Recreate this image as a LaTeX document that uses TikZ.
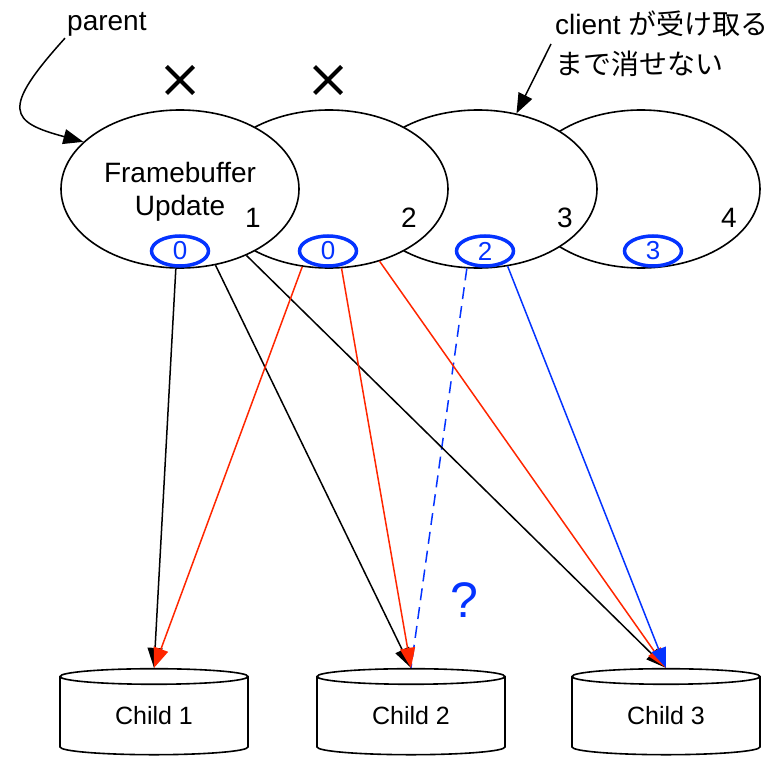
\documentclass[tikz,border=0pt]{standalone}
\usepackage{fontspec}
\setmainfont{Liberation Sans}
\newfontfamily\jpfont{Noto Sans CJK JP}
\usepackage{tikz}
\usetikzlibrary{shapes.geometric, shapes.misc, arrows.meta, positioning}

\definecolor{fbblue}{HTML}{0433FF}
\definecolor{fbred}{HTML}{FF2600}

\tikzset{
	buf/.style = {ellipse, draw, fill = white, line width = 1.6pt, minimum width = 238pt, minimum height = 158pt, inner sep = 0pt},
	seqno/.style = {ellipse, draw = fbblue, fill = white, text = fbblue, line width = 3.5pt, minimum width = 57pt, minimum height = 30pt, inner sep = 0pt, font = \fontsize{26}{26}\selectfont},
	child/.style = {cylinder, shape border rotate = 90, draw, line width = 1.6pt, minimum width = 188pt, minimum height = 86pt, aspect = 0.2, inner sep = 0pt, font = \fontsize{25}{25}\selectfont},
	big/.style = {font = \fontsize{28}{33}\selectfont},
	send/.style = {-{Triangle[length = 20pt, width = 15pt]}, line width = 1.5pt},
	nope/.style = {cross out, draw, line width = 4pt, minimum size = 23pt, inner sep = 0pt}
}

\begin{document}
\begin{tikzpicture}[x = 1pt, y = -1pt]
		\useasboundingbox (0, 0) rectangle (772, 757);
		% buffers, back to front
		\node[buf] (fb4) at (641, 189) {};
		\node[buf] (fb3) at (478, 189) {};
		\node[buf] (fb2) at (329, 189) {};
		\node[buf] (fb1) at (180, 189) {};
		\node[big, align = center] (fbtext) at (180, 192) {Framebuffer\\Update};
		\node[big] (n1) at (253, 218) {1};
		\node[big] (n2) at (409, 218) {2};
		\node[big] (n3) at (565, 218) {3};
		\node[big] (n4) at (729, 218) {4};
		\node[seqno] (s1) at (180, 251) {0};
		\node[seqno] (s2) at (328, 251) {0};
		\node[seqno] (s3) at (485, 251) {2};
		\node[seqno] (s4) at (653, 251) {3};
		\node[nope] (x1) at (180, 80) {};
		\node[nope] (x2) at (328, 80) {};
		% children
		\node[child] (child1) at (154, 716) {Child 1};
		\node[child] (child2) at (411, 716) {Child 2};
		\node[child] (child3) at (666, 716) {Child 3};
		% labels
		\node[big, anchor = west, inner sep = 2pt] (parent) at (65, 24) {parent};
		\node[anchor = west, inner sep = 4pt, align = left, font = \fontsize{28}{40}\selectfont] (client) at (551, 44) {client {\jpfont が受け取る}\\{\jpfont まで消せない}};
		\node[text = fbblue, font = \fontsize{50}{50}\selectfont] (huh) at (464, 600) {?};
		\draw[send] (parent.south west) .. controls (0, 110) and (10, 122) .. (fb1.154);
		\draw[send] (client.west) -- (fb3.63);
		% updates sent to children
		\draw[fbblue, line width = 1.5pt, dash pattern = on 12pt off 7pt] (fb3.-98) -- (child2.north);
		\draw[send] (fb1.-93) -- (child1.north);
		\draw[send] (fb1.-65) -- (child2.north);
		\draw[send] (fb1.-45) -- (child3.north);
		\draw[send, fbred] (fb2.-109) -- (child1.north);
		\draw[send, fbred] (fb2.-81) -- (child2.north);
		\draw[send, fbred] (fb2.-55) -- (child3.north);
		\draw[send, fbblue] (fb3.-69) -- (child3.north);
		\end{tikzpicture}
\end{document}
